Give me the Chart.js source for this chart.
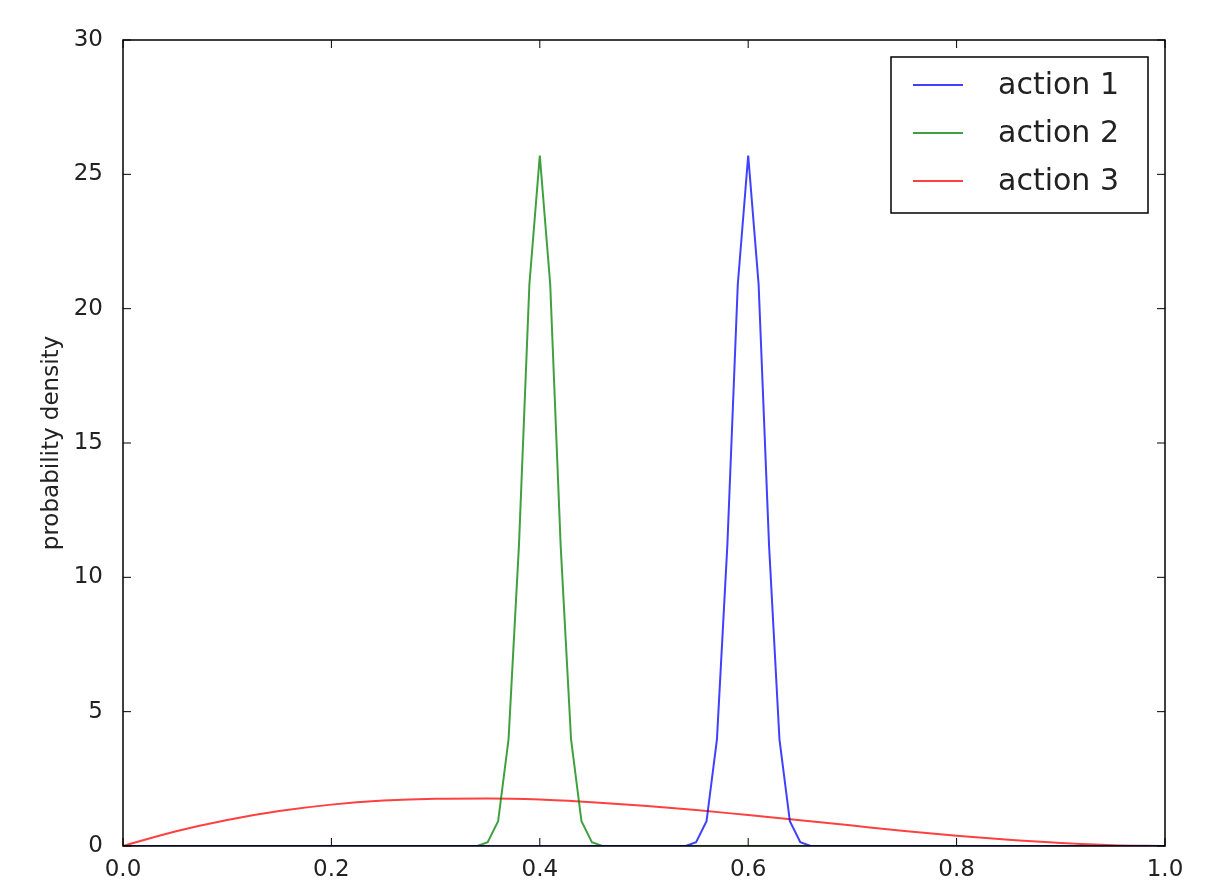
<!DOCTYPE html>
<html><head><meta charset="utf-8">
<script src="https://cdn.jsdelivr.net/npm/chart.js@4"></script>
<style>html,body{margin:0;background:#fff}#w{width:1224px;height:894px}</style>
</head><body><div id="w"><canvas id="c"></canvas></div>
<script>
const seriesNames = ["action 1", "action 2", "action 3"];
const xTicks = [0, 0.2, 0.4, 0.6, 0.8, 1.0];
const yTicks = [0, 5, 10, 15, 20, 25, 30];
const peakX1 = [0, 0.54, 0.55, 0.56, 0.57, 0.58, 0.59, 0.60, 0.61, 0.62, 0.63, 0.64, 0.65, 0.66, 1];
const peakY1 = [0, 0, 0.14, 0.92, 3.97, 11.2, 20.9, 25.7, 20.9, 11.2, 3.97, 0.92, 0.14, 0, 0];
const peakX2 = [0, 0.34, 0.35, 0.36, 0.37, 0.38, 0.39, 0.40, 0.41, 0.42, 0.43, 0.44, 0.45, 0.46, 1];
const peakY2 = [0, 0, 0.14, 0.92, 3.97, 11.2, 20.9, 25.7, 20.9, 11.2, 3.97, 0.92, 0.14, 0, 0];
const broadX3 = [0,0.05,0.1,0.15,0.2,0.25,0.3,0.35,0.4,0.45,0.5,0.55,0.6,0.65,0.7,0.75,0.8,0.85,0.9,0.95,1];
const broadY3 = [0,0.54,0.97,1.30,1.54,1.69,1.76,1.77,1.73,1.63,1.50,1.34,1.15,0.96,0.76,0.56,0.38,0.23,0.11,0.03,0];
const colors = ["rgba(0,0,255,0.75)", "rgba(0,128,0,0.75)", "rgba(255,0,0,0.75)"];
const pts = (xs, ys) => xs.map((x, i) => ({x, y: ys[i]}));
const font = "'DejaVu Sans', sans-serif";

const frame = {
  id: 'frame',
  afterDraw(ch) {
    const {ctx, chartArea: a, scales: {x, y}} = ch;
    ctx.save();
    ctx.strokeStyle = '#000'; ctx.lineWidth = 1.5;
    ctx.strokeRect(a.left, a.top, a.right - a.left, a.bottom - a.top);
    ctx.lineWidth = 1;
    ctx.beginPath();
    xTicks.forEach(v => { const p = x.getPixelForValue(v);
      ctx.moveTo(p, a.bottom); ctx.lineTo(p, a.bottom - 8);
      ctx.moveTo(p, a.top); ctx.lineTo(p, a.top + 8); });
    yTicks.forEach(v => { const p = y.getPixelForValue(v);
      ctx.moveTo(a.left, p); ctx.lineTo(a.left + 8, p);
      ctx.moveTo(a.right, p); ctx.lineTo(a.right - 8, p); });
    ctx.stroke();
    const lx = 891, ly = 57, lw = 257, lh = 156;
    ctx.fillStyle = '#fff'; ctx.fillRect(lx, ly, lw, lh);
    ctx.lineWidth = 1.5; ctx.strokeRect(lx, ly, lw, lh);
    ctx.font = "30px " + font; ctx.textBaseline = 'middle'; ctx.fillStyle = '#222';
    seriesNames.forEach((n, i) => {
      const yy = 85 + i * 48;
      ctx.strokeStyle = colors[i]; ctx.lineWidth = 2;
      ctx.beginPath(); ctx.moveTo(913, yy); ctx.lineTo(963, yy); ctx.stroke();
      ctx.fillText(n, 998, yy + 1);
    });
    ctx.restore();
  }
};

new Chart(document.getElementById('c'), {
  type: 'line',
  data: { datasets: [
    {label: seriesNames[0], data: pts(peakX1, peakY1), borderColor: colors[0]},
    {label: seriesNames[1], data: pts(peakX2, peakY2), borderColor: colors[1]},
    {label: seriesNames[2], data: pts(broadX3, broadY3), borderColor: colors[2], tension: 0.4, cubicInterpolationMode: 'monotone'}
  ]},
  options: {
    responsive: true, maintainAspectRatio: false, animation: false,
    layout: {padding: {top: 40, right: 59, left: 38, bottom: 0}},
    elements: {point: {radius: 0}, line: {borderWidth: 2}},
    plugins: {legend: {display: false}, tooltip: {enabled: false}},
    scales: {
      x: {type: 'linear', min: 0, max: 1,
        grid: {display: false}, border: {display: false},
        afterFit: s => { s.height = 48; },
        afterBuildTicks: s => { s.ticks = xTicks.map(v => ({value: v})); },
        ticks: {font: {size: 23, family: font}, color: '#222', padding: 2,
          callback: v => v.toFixed(1), maxRotation: 0}},
      y: {min: 0, max: 30,
        grid: {display: false}, border: {display: false},
        afterFit: s => { s.width = 85; },
        afterBuildTicks: s => { s.ticks = yTicks.map(v => ({value: v})); },
        title: {display: true, text: 'probability density', font: {size: 23, family: font}, color: '#222', padding: {top: 0, bottom: 0}},
        ticks: {font: {size: 23, family: font}, color: '#222', padding: 12}}
    }
  },
  plugins: [frame]
});
</script></body></html>
